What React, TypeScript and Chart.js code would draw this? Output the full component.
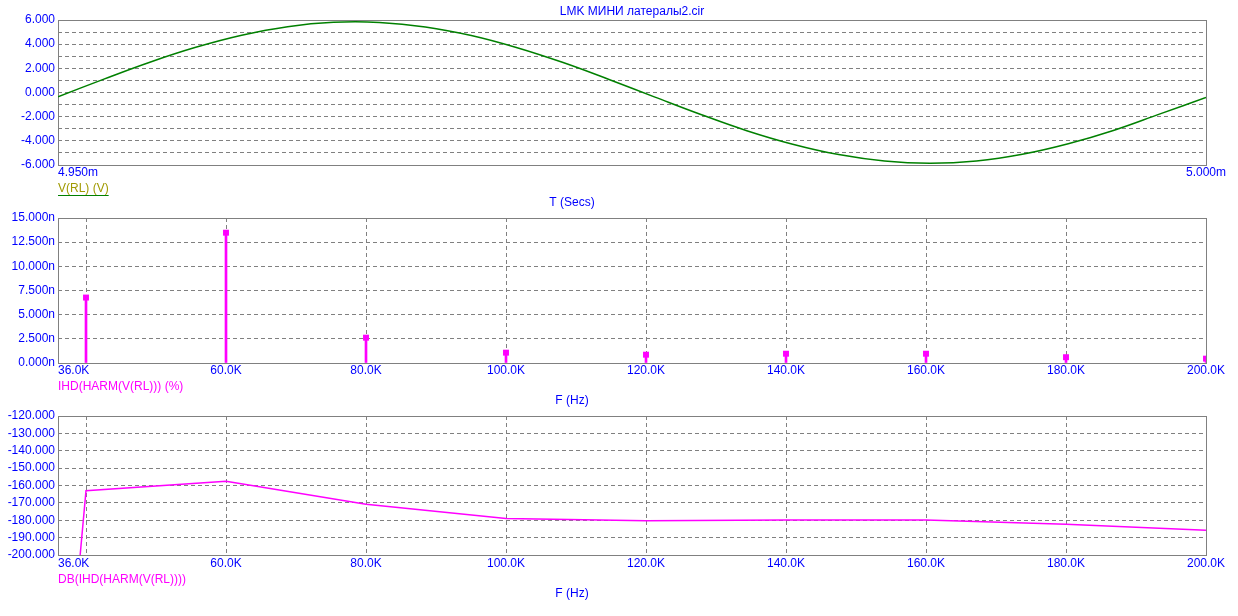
import React, { useEffect, useRef } from 'react';
import { Chart, registerables } from 'chart.js';

Chart.register(...registerables);

const FONT = "Arial, 'Liberation Sans', sans-serif";
const BLUE = '#0000ff';
const GRID = '#808080';
const GREEN = '#008000';
const OLIVE = '#a09a00';
const MAGENTA = '#ff00ff';

const chartTitle = 'LMK МИНИ латералы2.cir';

// Panel 1: transient V(RL)
const timeMs = [
  4.95, 4.952, 4.954, 4.956, 4.958, 4.96, 4.962, 4.964, 4.966, 4.968, 4.97, 4.972, 4.974,
  4.976, 4.978, 4.98, 4.982, 4.984, 4.986, 4.988, 4.99, 4.992, 4.994, 4.996, 4.998, 5.0,
];
const vRL = [
  -0.35, 1.11, 2.51, 3.74, 4.74, 5.45, 5.81, 5.8, 5.43, 4.72, 3.71, 2.48, 1.08,
  -0.38, -1.82, -3.16, -4.28, -5.14, -5.67, -5.85, -5.66, -5.11, -4.24, -3.12, -1.77, -0.42,
];
const timeTickValues = [4.95, 5.0];
const timeTickText = ['4.950m', '5.000m'];

// Panel 2: IHD(HARM(V(RL))) in n%
const harmFreqK = [40, 60, 80, 100, 120, 140, 160, 180, 200];
const ihdNano = [6.77, 13.48, 2.62, 1.07, 0.86, 0.96, 0.96, 0.6, 0.45];

// Panel 3: DB(IHD(HARM(V(RL))))
const dbFreqK = [20, 40, 60, 80, 100, 120, 140, 160, 180, 200];
const ihdDb = [-1050, -163.0, -157.6, -170.8, -179.0, -180.3, -179.9, -179.9, -182.3, -185.8];

const freqGridValues = [40, 60, 80, 100, 120, 140, 160, 180, 200];
const freqTickValues = [36, 60, 80, 100, 120, 140, 160, 180, 200];
const freqTickText = ['36.0K', '60.0K', '80.0K', '100.0K', '120.0K', '140.0K', '160.0K', '180.0K', '200.0K'];

const W = 1238;
const H = 616;

const panelDecor = {
  id: 'panelDecor',
  beforeDatasetsDraw(chart: any) {
    const { ctx, chartArea: a } = chart;
    ctx.save();
    ctx.strokeStyle = GRID;
    ctx.lineWidth = 1;
    ctx.setLineDash([]);
    ctx.strokeRect(a.left + 0.5, a.top + 0.5, a.right - a.left, a.bottom - a.top);
    ctx.restore();
  },
  afterDraw(chart: any, _args: any, opts: any) {
    const { ctx, chartArea: a } = chart;
    const xs = chart.scales.x;
    ctx.save();
    ctx.font = `12px ${FONT}`;
    ctx.textBaseline = 'middle';
    ctx.fillStyle = BLUE;
    ctx.textAlign = 'center';
    (opts.tickValues || []).forEach((v: number, i: number) => {
      const t = opts.tickText[i];
      const w = ctx.measureText(t).width;
      let cx = xs.getPixelForValue(v);
      cx = Math.max(cx, a.left + w / 2);
      ctx.fillText(t, cx, a.bottom + opts.tickGap);
    });
    ctx.textAlign = 'left';
    ctx.fillStyle = opts.legendColor;
    ctx.fillText(opts.legend, a.left, a.bottom + opts.legendGap);
    if (opts.underline) {
      const w = ctx.measureText(opts.legend).width;
      ctx.strokeStyle = opts.underline;
      ctx.lineWidth = 1;
      ctx.beginPath();
      ctx.moveTo(a.left, Math.round(a.bottom + opts.legendGap + 6) + 0.5);
      ctx.lineTo(a.left + w, Math.round(a.bottom + opts.legendGap + 6) + 0.5);
      ctx.stroke();
    }
    ctx.textAlign = 'center';
    ctx.fillStyle = BLUE;
    ctx.fillText(opts.axisTitle, opts.axisTitleX, a.bottom + opts.axisTitleGap);
    if (opts.title) {
      ctx.fillText(opts.title, (a.left + a.right) / 2, a.top - 8);
    }
    ctx.restore();
  },
};

function gridColor(ctx: any) {
  const s = ctx.scale;
  if (ctx.tick && (Math.abs(ctx.tick.value - s.min) < 1e-9 || Math.abs(ctx.tick.value - s.max) < 1e-9)) {
    return 'rgba(0,0,0,0)';
  }
  return GRID;
}

function yScale(min: number, max: number, step: number, fmt: (v: number) => string) {
  return {
    type: 'linear',
    min,
    max,
    afterFit(scale: any) {
      scale.width = 58;
    },
    ticks: {
      stepSize: step,
      autoSkip: false,
      padding: 3,
      color: BLUE,
      font: { family: FONT, size: 12 },
      callback: (v: any) => fmt(Number(v)),
    },
    grid: { color: gridColor, drawTicks: false, lineWidth: 1 },
    border: { display: false, dash: [4, 3] },
  };
}

function freqXScale() {
  return {
    type: 'linear',
    min: 36,
    max: 200,
    offset: false,
    afterFit(scale: any) {
      scale.height = 0;
    },
    afterBuildTicks(scale: any) {
      scale.ticks = freqGridValues.map((v) => ({ value: v }));
    },
    ticks: { display: false },
    grid: { color: gridColor, drawTicks: false, lineWidth: 1, offset: false },
    border: { display: false, dash: [4, 3] },
  };
}

const common = {
  responsive: false,
  animation: false,
  events: [],
  devicePixelRatio: 1,
};

export default function App() {
  const c1 = useRef<HTMLCanvasElement>(null);
  const c2 = useRef<HTMLCanvasElement>(null);
  const c3 = useRef<HTMLCanvasElement>(null);

  useEffect(() => {
    const charts: Chart[] = [];

    charts.push(
      new Chart(c1.current as HTMLCanvasElement, {
        type: 'line',
        data: {
          datasets: [
            {
              data: timeMs.map((t, i) => ({ x: t, y: vRL[i] })),
              borderColor: GREEN,
              borderWidth: 1.5,
              pointRadius: 0,
              tension: 0.4,
              fill: false,
            },
          ],
        },
        options: {
          ...common,
          layout: { padding: { top: 20, right: 32, bottom: H - 165, left: 0 } },
          plugins: {
            legend: { display: false },
            tooltip: { enabled: false },
            panelDecor: {
              tickValues: timeTickValues,
              tickText: timeTickText,
              tickGap: 8,
              legend: 'V(RL) (V)',
              legendColor: OLIVE,
              legendGap: 24,
              underline: GREEN,
              axisTitle: 'T (Secs)',
              axisTitleX: 572,
              axisTitleGap: 38,
              title: chartTitle,
            },
          },
          scales: {
            x: {
              type: 'linear',
              min: 4.95,
              max: 5.0,
              afterFit(scale: any) {
                scale.height = 0;
              },
              ticks: { display: false },
              grid: { display: false },
              border: { display: false },
            },
            y: yScale(-6, 6, 1, (v) => (Math.round(v) % 2 === 0 ? v.toFixed(3) : '')),
          },
        } as any,
        plugins: [panelDecor],
      })
    );

    charts.push(
      new Chart(c2.current as HTMLCanvasElement, {
        type: 'bar',
        data: {
          datasets: [
            {
              type: 'bar',
              data: harmFreqK.map((f, i) => ({ x: f, y: ihdNano[i] })),
              backgroundColor: MAGENTA,
              borderWidth: 0,
              barThickness: 2,
            } as any,
            {
              type: 'line',
              data: harmFreqK.map((f, i) => ({ x: f, y: ihdNano[i] })),
              showLine: false,
              pointStyle: 'rect',
              pointRadius: 4.2,
              pointBackgroundColor: MAGENTA,
              pointBorderWidth: 0,
              borderColor: MAGENTA,
              clip: 0,
            } as any,
          ],
        },
        options: {
          ...common,
          layout: { padding: { top: 218, right: 32, bottom: H - 363, left: 0 } },
          plugins: {
            legend: { display: false },
            tooltip: { enabled: false },
            panelDecor: {
              tickValues: freqTickValues,
              tickText: freqTickText,
              tickGap: 8,
              legend: 'IHD(HARM(V(RL))) (%)',
              legendColor: MAGENTA,
              legendGap: 24,
              axisTitle: 'F (Hz)',
              axisTitleX: 572,
              axisTitleGap: 38,
            },
          },
          scales: {
            x: freqXScale(),
            y: yScale(0, 15, 2.5, (v) => `${v.toFixed(3)}n`),
          },
        } as any,
        plugins: [panelDecor],
      })
    );

    charts.push(
      new Chart(c3.current as HTMLCanvasElement, {
        type: 'line',
        data: {
          datasets: [
            {
              data: dbFreqK.map((f, i) => ({ x: f, y: ihdDb[i] })),
              borderColor: MAGENTA,
              borderWidth: 1.5,
              pointRadius: 0,
              tension: 0,
              fill: false,
              clip: 0,
            } as any,
          ],
        },
        options: {
          ...common,
          layout: { padding: { top: 416, right: 32, bottom: H - 555, left: 0 } },
          plugins: {
            legend: { display: false },
            tooltip: { enabled: false },
            panelDecor: {
              tickValues: freqTickValues,
              tickText: freqTickText,
              tickGap: 9,
              legend: 'DB(IHD(HARM(V(RL))))',
              legendColor: MAGENTA,
              legendGap: 25,
              axisTitle: 'F (Hz)',
              axisTitleX: 572,
              axisTitleGap: 39,
            },
          },
          scales: {
            x: freqXScale(),
            y: yScale(-200, -120, 10, (v) => v.toFixed(3)),
          },
        } as any,
        plugins: [panelDecor],
      })
    );

    return () => charts.forEach((c) => c.destroy());
  }, []);

  const cs: React.CSSProperties = { position: 'absolute', left: 0, top: 0, width: W, height: H };
  return (
    <div style={{ position: 'absolute', left: 0, top: 0, width: W, height: H, background: '#fff' }}>
      <canvas ref={c1} width={W} height={H} style={cs} />
      <canvas ref={c2} width={W} height={H} style={cs} />
      <canvas ref={c3} width={W} height={H} style={cs} />
    </div>
  );
}
